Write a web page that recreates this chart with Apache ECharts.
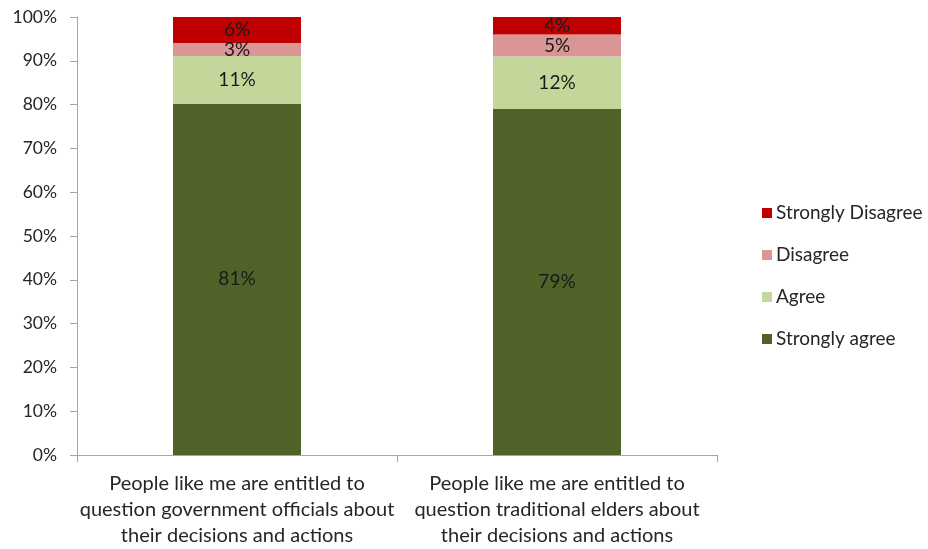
<!DOCTYPE html>
<html>
<head>
<meta charset="utf-8">
<script src="https://cdn.jsdelivr.net/npm/echarts@6/dist/echarts.min.js"></script>
<style>
  html, body { margin: 0; padding: 0; background: #fff; }
  #chart { width: 928px; height: 549px; }
</style>
</head>
<body>
<div id="chart"></div>
<script>
// Survey statements (x categories)
const categories = [
  'People like me are entitled to\nquestion government officials about\ntheir decisions and actions',
  'People like me are entitled to\nquestion traditional elders about\ntheir decisions and actions'
];

// Reported shares (%) per response, per statement
const stronglyAgree    = [81, 79];
const agree            = [11, 12];
const disagree         = [3, 5];
const stronglyDisagree = [6, 4];

const yTicks = [0, 10, 20, 30, 40, 50, 60, 70, 80, 90, 100];

const seriesDefs = [
  { name: 'Strongly agree',    values: stronglyAgree,    color: '#4F6228' },
  { name: 'Agree',             values: agree,            color: '#C4D79B' },
  { name: 'Disagree',          values: disagree,         color: '#DA9694' },
  { name: 'Strongly Disagree', values: stronglyDisagree, color: '#C00000' }
];

// 100% stacking: each column is scaled to its own total
const totals = categories.map((_, i) =>
  seriesDefs.reduce((s, d) => s + d.values[i], 0));

const font = 'Lato, "Open Sans", sans-serif';

const chart = echarts.init(document.getElementById('chart'), null, { renderer: 'canvas' });

chart.setOption({
  animation: false,
  textStyle: { fontFamily: font },
  grid: { left: 77, right: 211, top: 17, bottom: 94, containLabel: false },
  legend: {
    orient: 'vertical',
    left: 757,
    top: 197,
    icon: 'rect',
    itemWidth: 10,
    itemHeight: 10,
    itemGap: 20,
    data: ['Strongly Disagree', 'Disagree', 'Agree', 'Strongly agree'],
    textStyle: { fontFamily: font, fontSize: 19, color: '#262626', lineHeight: 22, padding: [0, 0, 0, -1] }
  },
  xAxis: {
    type: 'category',
    data: categories,
    boundaryGap: true,
    axisLine: { lineStyle: { color: '#A6A6A6', width: 1 } },
    axisTick: { show: true, length: 7, lineStyle: { color: '#A6A6A6' } },
    axisLabel: {
      interval: 0,
      margin: 16,
      fontFamily: font,
      fontSize: 20,
      lineHeight: 26,
      color: '#262626',
      align: 'center'
    }
  },
  yAxis: {
    type: 'value',
    min: 0,
    max: 100,
    interval: 10,
    splitLine: { show: false },
    axisLine: { show: true, lineStyle: { color: '#A6A6A6', width: 1 } },
    axisTick: { show: true, length: 7, inside: false, lineStyle: { color: '#A6A6A6' } },
    axisLabel: {
      margin: 20,
      fontFamily: font,
      fontSize: 17.5,
      color: '#262626',
      formatter: v => (yTicks.includes(v) ? v + '%' : '')
    }
  },
  series: seriesDefs.map(d => ({
    name: d.name,
    type: 'bar',
    stack: 'total',
    barWidth: '40%',
    itemStyle: { color: d.color },
    label: {
      show: true,
      position: 'inside',
      fontFamily: font,
      fontSize: 19,
      color: '#1a1a1a',
      formatter: p => d.values[p.dataIndex] + '%'
    },
    data: d.values.map((v, i) => v / totals[i] * 100)
  }))
});
</script>
</body>
</html>
